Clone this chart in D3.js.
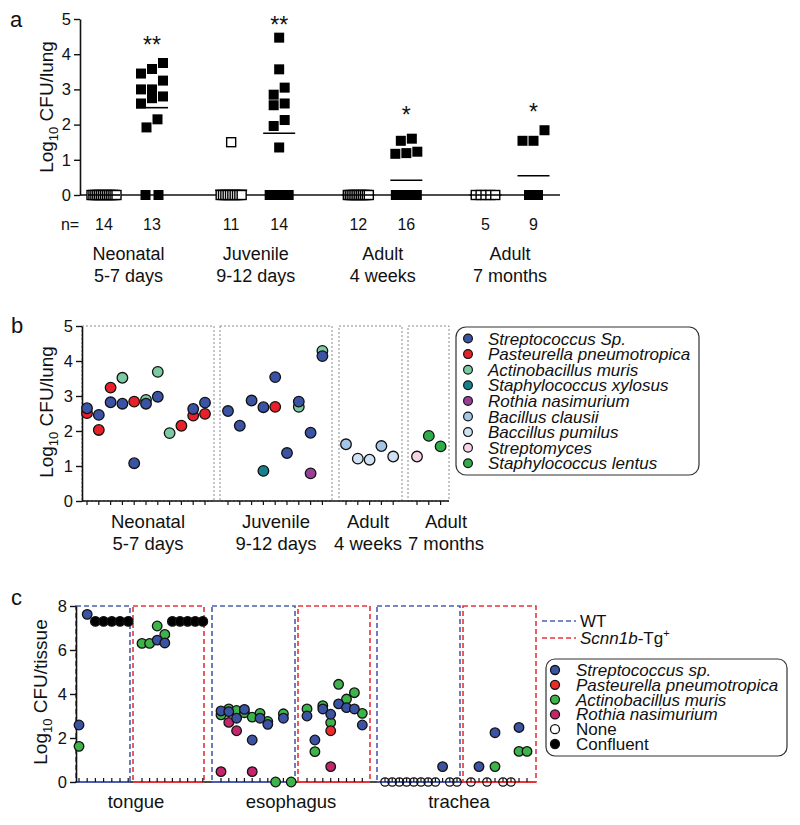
<!DOCTYPE html>
<html><head><meta charset="utf-8">
<script src="https://cdn.jsdelivr.net/npm/d3@7"></script>
<style>
body{margin:0;background:#fff}
svg{display:block}
text{font-family:"Liberation Sans",Arial,Helvetica,sans-serif;fill:#111}
</style>
</head><body>
<svg id="chart" width="800" height="825"></svg>
<script>
// ================= DATA =================
// Panel a
const groupsA = [["Neonatal","5-7 days"],["Juvenile","9-12 days"],["Adult","4 weeks"],["Adult","7 months"]];
const nLabelsA = ["14","13","11","14","12","16","5","9"];
const neoCtrlA = [0,0,0,0,0,0,0,0,0,0,0,0,0,0];
const neoInfA  = [3.75,3.58,3.45,3.25,3.0,3.0,2.8,2.75,2.6,2.15,1.92,0,0];
const juvCtrlA = [1.5,0,0,0,0,0,0,0,0,0,0];
const juvInfA  = [4.47,3.57,3.05,2.85,2.6,2.55,2.13,1.96,1.35,0,0,0,0,0];
const ad4CtrlA = [0,0,0,0,0,0,0,0,0,0,0,0];
const ad4InfA  = [1.6,1.54,1.23,1.19,1.17,0,0,0,0,0,0,0,0,0,0,0];
const ad7CtrlA = [0,0,0,0,0];
const ad7InfA  = [1.84,1.54,1.54,0,0,0,0,0,0];
const starsA   = ["**","**","*","*"];
const yTicksA  = [0,1,2,3,4,5];

// Panel b  (each mouse: list of [speciesIndex, log10 CFU])
const speciesB = ["Streptococcus Sp.","Pasteurella pneumotropica","Actinobacillus muris","Staphylococcus xylosus","Rothia nasimurium","Bacillus clausii","Baccillus pumilus","Streptomyces","Staphylococcus lentus"];
const groupsB = [["Neonatal","5-7 days"],["Juvenile","9-12 days"],["Adult","4 weeks"],["Adult","7 months"]];
const neonatalB = [
  [[0,2.65],[1,2.51]], [[0,2.46],[1,2.03]], [[1,3.24],[0,2.82]], [[2,3.52],[0,2.78]],
  [[1,2.84],[0,1.08]], [[2,2.89],[0,2.78]], [[2,3.69],[0,2.98]], [[2,1.94]],
  [[1,2.15]], [[0,2.63],[1,2.44]], [[0,2.81],[1,2.49]]
];
const juvenileB = [
  [[0,2.57]], [[0,2.15]], [[0,2.87]], [[0,2.68],[3,0.86]], [[0,3.54],[1,2.69]],
  [[0,1.37]], [[0,2.84],[2,2.69]], [[0,1.95],[4,0.79]], [[2,4.29],[0,4.14]]
];
const adult4B = [[[5,1.62]],[[6,1.21]],[[6,1.18]],[[5,1.57]],[[6,1.27]]];
const adult7B = [[[7,1.27]],[[8,1.86]],[[8,1.56]]];
const yTicksB = [0,1,2,3,4,5];

// Panel c
const speciesC = ["Streptococcus sp.","Pasteurella pneumotropica","Actinobacillus muris","Rothia nasimurium","None","Confluent"];
const tissuesC = ["tongue","esophagus","trachea"];
const genotypesC = ["WT","Scnn1b-Tg+"];
const tongueWT = [[[2,1.62],[0,2.59]],[[0,7.62]],[[5,7.3]],[[5,7.3]],[[5,7.3]],[[5,7.3]],[[5,7.3]]];
const tongueTg = [[[2,6.3]],[[2,6.3]],[[2,7.09],[0,6.45]],[[2,6.71],[0,6.32]],[[5,7.3]],[[5,7.3]],[[5,7.3]],[[5,7.3]],[[5,7.3]]];
const esoWT = [
  [[2,3.05],[0,3.23],[3,0.47]], [[2,3.32],[0,3.2],[3,2.71]], [[2,3.25],[0,2.9],[3,2.33]],
  [[2,3.15],[0,3.3]], [[2,2.95],[0,1.91],[3,0.47]], [[2,3.12],[0,2.9]], [[2,2.75],[0,2.62]],
  [[2,0]], [[2,3.1],[0,2.9]], [[2,0]]
];
const esoTg = [
  [[2,3.32],[0,3.0]], [[0,1.91],[2,1.38]], [[2,3.47],[0,3.32]],
  [[0,3.08],[2,2.7],[1,2.33],[3,0.7]], [[2,4.44],[0,3.55]], [[2,3.77],[0,3.38]],
  [[2,4.06],[0,3.32]], [[2,3.12],[0,2.59]]
];
const trachWT = [[[4,0]],[[4,0]],[[4,0]],[[4,0]],[[4,0]],[[4,0]],[[4,0]],[[4,0]],[[0,0.7]],[[4,0]],[[4,0]]];
const trachTg = [[[4,0]],[[0,0.7]],[[4,0]],[[0,2.24],[2,0.7]],[[4,0]],[[4,0]],[[0,2.48],[2,1.39]],[[2,1.39]]];
const yTicksC = [0,2,4,6,8];

// ================= STYLE / LAYOUT =================
const colorsB = ["#3b53a4","#e8202a","#7ccaa3","#16808d","#9a3f97","#a3c5e8","#d0e1f4","#f6d3e6","#30ac4b"];
const colorsC = ["#3b53a4","#ee2a2a","#3db449","#c5256b","#ffffff","#000000"];
const WT_COL = "#4a5db0", TG_COL = "#e8333a";

const svg = d3.select("#chart");

function yTitle(x, y, rest) {
  const t = svg.append("text").attr("transform", `translate(${x},${y}) rotate(-90)`)
    .attr("text-anchor","middle").style("font-size","19px");
  t.append("tspan").text("Log");
  t.append("tspan").text("10").style("font-size","13px").attr("dy","5");
  t.append("tspan").text(" " + rest).attr("dy","-5");
}
function styleAxis(g, fs) {
  g.select(".domain").attr("stroke","#111").attr("stroke-width",1.6);
  g.selectAll(".tick line").attr("stroke","#111").attr("stroke-width",1.4);
  g.selectAll(".tick text").style("font-size", fs + "px").attr("fill","#111");
}

// ================= PANEL A =================
svg.append("text").attr("x",10).attr("y",27).style("font-size","22px").text("a");
const yA = d3.scaleLinear().domain([0,5]).range([195,19]);
const gA = svg.append("g").attr("transform","translate(80,0)")
  .call(d3.axisLeft(yA).tickValues(yTicksA).tickSize(6).tickSizeOuter(0).tickPadding(3).tickFormat(d3.format("d")));
styleAxis(gA, 16.5);
svg.append("line").attr("x1",80).attr("x2",560).attr("y1",yA(0)).attr("y2",yA(0)).attr("stroke","#111").attr("stroke-width",1.6);
yTitle(53, 107, "CFU/lung");

const outerA = d3.scalePoint().domain(d3.range(4)).range([128.5, 510]);
const subOff = [-24.5, 23.5];
const seriesA = [neoCtrlA, neoInfA, juvCtrlA, juvInfA, ad4CtrlA, ad4InfA, ad7CtrlA, ad7InfA];
const zeroSpread = [25, 13, 21, 19, 21, 21, 19.5, 9];

function rowsOf(vals) {
  const s = vals.filter(v => v > 0).sort((a,b) => b - a);
  const rows = [];
  s.forEach(v => {
    const r = rows[rows.length-1];
    if (r && r[0] - v <= 0.32) r.push(v); else rows.push([v]);
  });
  return rows.map(r => r.slice().sort((a,b) => a - b));
}
function rowOffsets(k) {
  if (k === 1) return [0];
  if (k === 2) return [-5.5, 5.5];
  if (k === 3) return [-11, 0, 11];
  return d3.range(k).map(i => i % 2 ? 6.5 : -6.5);
}

seriesA.forEach((vals, si) => {
  const cx = outerA(Math.floor(si/2)) + subOff[si%2];
  const open = si % 2 === 0;
  const sz = open ? 9 : 10;
  const pts = [];
  const zeros = vals.filter(v => v === 0).length;
  d3.range(zeros).forEach(i => {
    const off = zeros === 1 ? 0 : -zeroSpread[si]/2 + i * zeroSpread[si]/(zeros-1);
    pts.push({x: cx + off, v: 0});
  });
  rowsOf(vals).forEach(r => {
    const offs = rowOffsets(r.length);
    r.forEach((v,i) => pts.push({x: cx + offs[i], v}));
  });
  svg.append("g").selectAll("rect").data(pts).join("rect")
    .attr("x", d => d.x - sz/2).attr("y", d => yA(d.v) - sz/2)
    .attr("width", sz).attr("height", sz)
    .attr("fill", open ? "#fff" : "#000")
    .attr("stroke", "#000").attr("stroke-width", open ? 1.4 : 0);
  const m = d3.mean(vals);
  svg.append("line").attr("x1", cx - 16).attr("x2", cx + 16)
    .attr("y1", yA(m)).attr("y2", yA(m)).attr("stroke","#000").attr("stroke-width",1.6);
  svg.append("text").attr("x", cx).attr("y", 230).attr("text-anchor","middle")
    .style("font-size","16px").text(nLabelsA[si]);
});
svg.append("text").attr("x",70).attr("y",230).attr("text-anchor","middle").style("font-size","16px").text("n=");
const starY = [53, 33, 123, 120];
starsA.forEach((s,i) => {
  svg.append("text").attr("x", outerA(i) + subOff[1]).attr("y", starY[i]).attr("text-anchor","middle")
    .style("font-size","23px").text(s);
});
groupsA.forEach((g,i) => {
  const t = svg.append("text").attr("text-anchor","middle").style("font-size","18px");
  t.append("tspan").attr("x", outerA(i)).attr("y", 260).text(g[0]);
  t.append("tspan").attr("x", outerA(i)).attr("y", 282).text(g[1]);
});

// ================= PANEL B =================
svg.append("text").attr("x",11).attr("y",333).style("font-size","22px").text("b");
const yB = d3.scaleLinear().domain([0,5]).range([501,326]);
const boxesB = [[82,214],[220,332],[339,402],[408,449]];
const firstColB = [87,228,346,417];
const stepB = 11.8;
const labelXB = [148, 276, 368, 446];
const dataB = [neonatalB, juvenileB, adult4B, adult7B];

boxesB.forEach(b => {
  svg.append("rect").attr("x", b[0]).attr("y", yB(5)).attr("width", b[1]-b[0]).attr("height", yB(0)-yB(5))
    .attr("fill","none").attr("stroke","#8a8a8a").attr("stroke-width",1).attr("stroke-dasharray","2,2");
});
svg.append("line").attr("x1",82).attr("x2",449).attr("y1",yB(0)).attr("y2",yB(0)).attr("stroke","#111").attr("stroke-width",1.6);
const gB = svg.append("g").attr("transform","translate(82,0)")
  .call(d3.axisLeft(yB).tickValues(yTicksB).tickSize(6).tickSizeOuter(0).tickPadding(3).tickFormat(d3.format("d")));
styleAxis(gB, 16.5);
yTitle(53, 412, "CFU/lung");

dataB.forEach((mice, gi) => {
  const xs = d3.scaleLinear().domain([0,1]).range([firstColB[gi], firstColB[gi] + stepB]);
  mice.forEach((m, i) => {
    svg.append("line").attr("x1", xs(i)).attr("x2", xs(i)).attr("y1", yB(0)).attr("y2", yB(0)+4)
      .attr("stroke","#111").attr("stroke-width",1.2);
  });
  const pts = [];
  mice.forEach((m, i) => m.forEach(p => pts.push({x: xs(i), s: p[0], v: p[1]})));
  pts.sort((a,b) => b.s - a.s);
  svg.append("g").selectAll("circle").data(pts).join("circle")
    .attr("cx", d => d.x).attr("cy", d => yB(d.v)).attr("r", 5.3)
    .attr("fill", d => colorsB[d.s]).attr("stroke","#111").attr("stroke-width",1.3);
  const t = svg.append("text").attr("text-anchor","middle").style("font-size","18.5px");
  t.append("tspan").attr("x", labelXB[gi]).attr("y", 528).text(groupsB[gi][0]);
  t.append("tspan").attr("x", labelXB[gi]).attr("y", 550).text(groupsB[gi][1]);
});

// legend b
svg.append("rect").attr("x",456).attr("y",327).attr("width",243).attr("height",148).attr("rx",10)
  .attr("fill","none").attr("stroke","#333").attr("stroke-width",1.2);
speciesB.forEach((s,i) => {
  const cy = 338.5 + i*15.6;
  svg.append("circle").attr("cx",468).attr("cy",cy).attr("r",4.4).attr("fill",colorsB[i]).attr("stroke","#111").attr("stroke-width",1.2);
  svg.append("text").attr("x",488).attr("y",cy+6).style("font-size","17px").style("font-style","italic").text(s);
});

// ================= PANEL C =================
svg.append("text").attr("x",11).attr("y",605).style("font-size","22px").text("c");
const yC = d3.scaleLinear().domain([0,8]).range([782,606]);
const boxesC = [[76,130],[133,204],[212,295],[298,370],[377,460],[463,536]];
const firstColC = [79,142,221,307,385,471];
const stepC = [8.2,7.6,7.8,7.9,7.2,8.0];
const dataC = [tongueWT, tongueTg, esoWT, esoTg, trachWT, trachTg];
const labelXC = [136, 291, 459];

svg.append("line").attr("x1",76).attr("x2",536).attr("y1",yC(0)).attr("y2",yC(0)).attr("stroke","#111").attr("stroke-width",1.6);
boxesC.forEach((b,i) => {
  const col = i % 2 === 0 ? WT_COL : TG_COL;
  svg.append("rect").attr("x", b[0]).attr("y", yC(8)).attr("width", b[1]-b[0]).attr("height", yC(0)-yC(8))
    .attr("fill","none").attr("stroke", col).attr("stroke-width",1.6).attr("stroke-dasharray","5,3");
  svg.append("line").attr("x1", b[0]).attr("x2", b[1]).attr("y1", yC(0)).attr("y2", yC(0))
    .attr("stroke", col).attr("stroke-width",1.8);
});
const gC = svg.append("g").attr("transform","translate(76,0)")
  .call(d3.axisLeft(yC).tickValues(yTicksC).tickSize(6).tickSizeOuter(0).tickPadding(3).tickFormat(d3.format("d")));
styleAxis(gC, 16.5);
yTitle(47, 692, "CFU/tissue");

dataC.forEach((mice, gi) => {
  const xs = d3.scaleLinear().domain([0,1]).range([firstColC[gi], firstColC[gi] + stepC[gi]]);
  mice.forEach((m, i) => {
    svg.append("line").attr("x1", xs(i)).attr("x2", xs(i)).attr("y1", yC(0)-4).attr("y2", yC(0))
      .attr("stroke","#111").attr("stroke-width",1.2);
  });
  const pts = [];
  mice.forEach((m, i) => m.forEach(p => pts.push({x: xs(i), s: p[0], v: p[1]})));
  pts.sort((a,b) => b.s - a.s);
  svg.append("g").selectAll("circle").data(pts).join("circle")
    .attr("cx", d => d.x).attr("cy", d => yC(d.v)).attr("r", d => d.s === 4 ? 4.2 : 4.8)
    .attr("fill", d => d.s === 4 ? "none" : colorsC[d.s]).attr("stroke","#111").attr("stroke-width",1.3);
});
tissuesC.forEach((t,i) => {
  svg.append("text").attr("x", labelXC[i]).attr("y", 808).attr("text-anchor","middle").style("font-size","18.5px").text(t);
});

// legend c
[[WT_COL, 621], [TG_COL, 638]].forEach(([col, y]) => {
  svg.append("line").attr("x1",542).attr("x2",576).attr("y1",y).attr("y2",y)
    .attr("stroke",col).attr("stroke-width",1.6).attr("stroke-dasharray","5,3");
});
svg.append("text").attr("x",580).attr("y",627).style("font-size","17px").text(genotypesC[0]);
const tg = svg.append("text").attr("x",580).attr("y",644).style("font-size","17px");
tg.append("tspan").style("font-style","italic").text("Scnn1b");
tg.append("tspan").text("-Tg");
tg.append("tspan").text("+").style("font-size","11px").attr("dy","-7");

svg.append("rect").attr("x",546).attr("y",659).attr("width",241).attr("height",97).attr("rx",9)
  .attr("fill","none").attr("stroke","#333").attr("stroke-width",1.2);
speciesC.forEach((s,i) => {
  const cy = 670 + i*14.8;
  svg.append("circle").attr("cx",555).attr("cy",cy).attr("r",4.5)
    .attr("fill", colorsC[i]).attr("stroke","#111").attr("stroke-width",1.3);
  svg.append("text").attr("x",576).attr("y",cy+6).style("font-size","17px")
    .style("font-style", i < 4 ? "italic" : "normal").text(s);
});
</script>
</body></html>
